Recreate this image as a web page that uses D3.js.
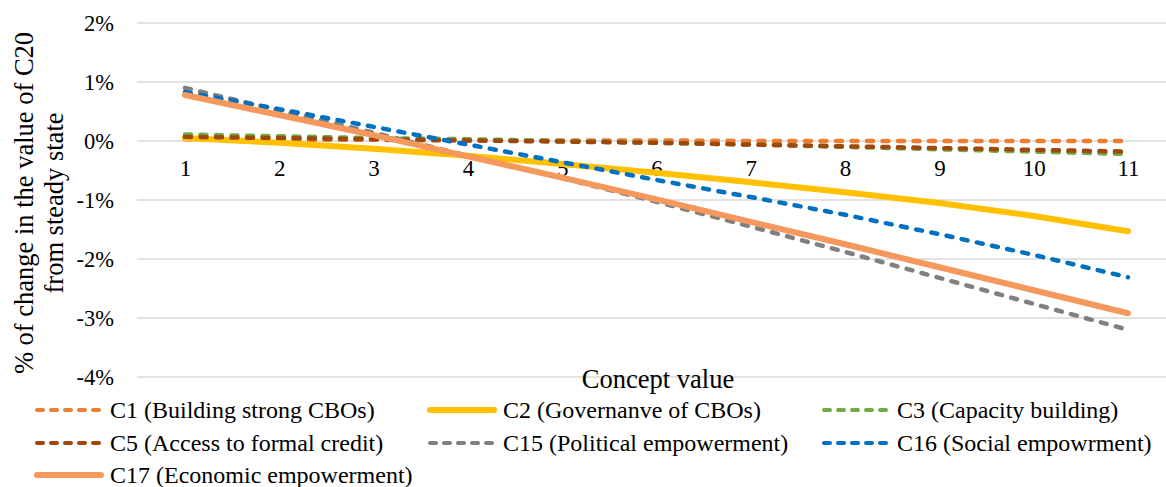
<!DOCTYPE html>
<html>
<head>
<meta charset="utf-8">
<script src="https://cdn.jsdelivr.net/npm/d3@7"></script>
<style>
  body { margin: 0; background: #fff; }
  text { font-family: "Liberation Serif", "Times New Roman", serif; fill: #000; }
</style>
</head>
<body>
<svg id="chart" width="1166" height="487"></svg>
<script>
// Concept values on the x axis
const categories = [1, 2, 3, 4, 5, 6, 7, 8, 9, 10, 11];
const yTicks = [2, 1, 0, -1, -2, -3, -4];

// % change of C20 from steady state
const c1 = [0.03, 0.02, 0.02, 0.01, 0.01, 0.01, 0.0, 0.0, 0.0, 0.0, 0.0];
const c2 = [0.05, -0.03, -0.13, -0.25, -0.39, -0.54, -0.70, -0.87, -1.05, -1.27, -1.53];
const c3 = [0.11, 0.08, 0.05, 0.03, 0.0, -0.03, -0.06, -0.10, -0.14, -0.18, -0.22];
const c5 = [0.07, 0.05, 0.03, 0.01, -0.01, -0.03, -0.06, -0.09, -0.12, -0.15, -0.18];
const c15 = [0.90, 0.52, 0.14, -0.25, -0.63, -1.03, -1.45, -1.88, -2.32, -2.76, -3.20];
const c16 = [0.83, 0.54, 0.24, -0.06, -0.36, -0.66, -0.95, -1.25, -1.58, -1.93, -2.31];
const c17 = [0.78, 0.44, 0.10, -0.26, -0.62, -0.99, -1.37, -1.75, -2.14, -2.53, -2.92];

const series = [
  { name: "C1 (Building strong CBOs)", values: c1, color: "#ED7D31", dashed: true },
  { name: "C2 (Governanve of CBOs)", values: c2, color: "#FFC000", dashed: false },
  { name: "C3 (Capacity building)", values: c3, color: "#70AD47", dashed: true },
  { name: "C5 (Access to formal credit)", values: c5, color: "#9E480E", dashed: true },
  { name: "C15 (Political empowerment)", values: c15, color: "#808080", dashed: true },
  { name: "C16 (Social empowrment)", values: c16, color: "#0070C0", dashed: true },
  { name: "C17 (Economic empowerment)", values: c17, color: "#F4985C", dashed: false }
];

const svg = d3.select("#chart");

// plot area
const gridLeft = 137, gridRight = 1166;
const x = d3.scalePoint().domain(categories).range([185, 1128]);
const y = d3.scaleLinear().domain([-4, 2]).range([377, 23]);

// horizontal gridlines
svg.append("g").selectAll("line")
  .data(yTicks)
  .join("line")
  .attr("x1", gridLeft).attr("x2", gridRight)
  .attr("y1", d => y(d)).attr("y2", d => y(d))
  .attr("stroke", "#d9d9d9").attr("stroke-width", 1.3);

// y axis labels
const yAxis = d3.axisLeft(y).tickValues(yTicks).tickSize(0).tickPadding(0)
  .tickFormat(d => d + "%");
svg.append("g")
  .attr("transform", "translate(114,0)")
  .call(yAxis)
  .call(g => g.select(".domain").remove())
  .call(g => g.selectAll("text")
    .style("font-family", "'Liberation Serif', serif")
    .style("font-size", "22.5px").attr("fill", "#000"));

// x axis labels sit just under the 0% line
const xAxis = d3.axisBottom(x).tickSize(0).tickPadding(19);
svg.append("g")
  .attr("transform", `translate(0,${y(0)})`)
  .call(xAxis)
  .call(g => g.select(".domain").remove())
  .call(g => g.selectAll("text")
    .style("font-family", "'Liberation Serif', serif")
    .style("font-size", "23px").attr("fill", "#000"));

// lines
const line = d3.line()
  .x((d, i) => x(categories[i]))
  .y(d => y(d));

svg.append("g").selectAll("path")
  .data(series)
  .join("path")
  .attr("d", d => line(d.values))
  .attr("fill", "none")
  .attr("stroke", d => d.color)
  .attr("stroke-width", d => d.dashed ? 4.5 : 6)
  .attr("stroke-linecap", "round")
  .attr("stroke-dasharray", d => d.dashed ? "6,9.5" : null);

// axis titles
svg.append("text")
  .attr("x", 658).attr("y", 388)
  .attr("text-anchor", "middle")
  .style("font-size", "26.5px")
  .text("Concept value");

const yTitle = svg.append("text")
  .attr("transform", "translate(0,203) rotate(-90)")
  .attr("text-anchor", "middle")
  .style("font-size", "26.5px");
yTitle.append("tspan").attr("x", 0).attr("y", 33).text("% of change in the value of C20");
yTitle.append("tspan").attr("x", 0).attr("y", 63).text("from steady state");

// legend, three columns
const colX = [35, 428, 822];
const rowY = [410, 443, 475];
const legend = svg.append("g").selectAll("g")
  .data(series)
  .join("g")
  .attr("transform", (d, i) => `translate(${colX[i % 3]},${rowY[Math.floor(i / 3)]})`);

legend.append("line")
  .attr("x1", 2).attr("x2", 66)
  .attr("y1", 0).attr("y2", 0)
  .attr("stroke", d => d.color)
  .attr("stroke-width", d => d.dashed ? 4 : 6)
  .attr("stroke-linecap", "round")
  .attr("stroke-dasharray", d => d.dashed ? "6,8" : null);

legend.append("text")
  .attr("x", 75).attr("y", 8)
  .style("font-size", "24px")
  .text(d => d.name);
</script>
</body>
</html>
